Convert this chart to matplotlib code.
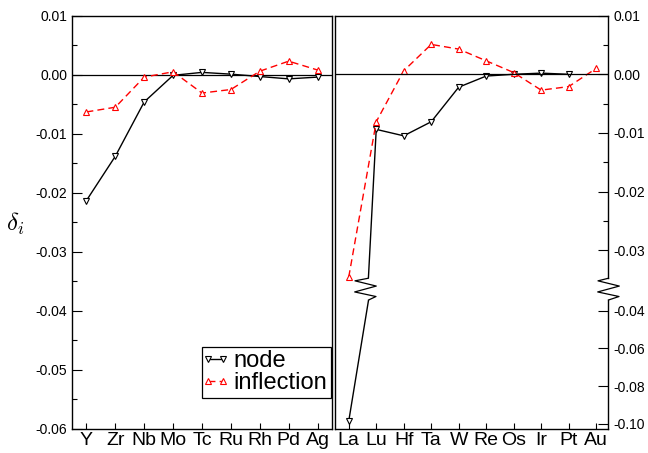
import numpy as np
import matplotlib
matplotlib.use('Agg')
import matplotlib.pyplot as plt
from matplotlib.lines import Line2D
from matplotlib.legend_handler import HandlerLine2D
from matplotlib.ticker import MultipleLocator, FixedLocator

plt.rcParams['font.family'] = ['Liberation Sans', 'DejaVu Sans']
plt.rcParams['mathtext.fontset'] = 'cm'

# 4d row
el_4d = ['Y', 'Zr', 'Nb', 'Mo', 'Tc', 'Ru', 'Rh', 'Pd', 'Ag']
node_4d = [-0.0213, -0.0138, -0.0046, -0.0001, 0.0004, 0.0001, -0.0003, -0.0007, -0.0004]
infl_4d = [-0.0063, -0.0055, -0.0004, 0.0005, -0.0031, -0.0025, 0.0006, 0.0023, 0.0008]

# 5d row (no node value for Au)
el_5d = ['La', 'Lu', 'Hf', 'Ta', 'W', 'Re', 'Os', 'Ir', 'Pt', 'Au']
node_5d = [-0.0985, -0.0094, -0.0105, -0.0081, -0.0022, -0.0003, 0.0000, 0.0002, 0.0000, np.nan]
infl_5d = [-0.0346, -0.0081, 0.0006, 0.0051, 0.0043, 0.0023, 0.0003, -0.0027, -0.0021, 0.0010]

W, H = 648, 453
fig = plt.figure(figsize=(W / 100, H / 100), dpi=100)


def box(x0, y0, x1, y1):
    # pixel box (top-left origin) -> figure fraction rect
    return [x0 / W, 1 - y1 / H, (x1 - x0) / W, (y1 - y0) / H]


node_style = dict(color='black', ls='-', lw=1.0)
infl_style = dict(color='red', ls=(0, (5, 3)), lw=1.0)
node_mk = dict(marker='v', ms=5, mfc='white', mec='black', mew=0.8)
infl_mk = dict(marker='^', ms=5, mfc='white', mec='red', mew=0.8)

TOP, BOT = 15.7, 429

# ---- left panel ----
ax1 = fig.add_axes(box(72, TOP, 332, BOT))
x4 = np.arange(len(el_4d))
ax1.axhline(0, color='black', lw=0.9)
ax1.plot(x4, node_4d, **node_style, **node_mk, label='node')
ax1.plot(x4, infl_4d, **infl_style, **infl_mk, label='inflection')
ax1.set_xlim(-0.5, len(el_4d) - 0.5)
ax1.set_ylim(-0.06, 0.01)
ax1.set_xticks(x4)
ax1.set_xticklabels(el_4d, fontsize=14)
ax1.yaxis.set_major_locator(MultipleLocator(0.01))
ax1.yaxis.set_minor_locator(MultipleLocator(0.005))
ax1.set_yticklabels(['%.2f' % v for v in ax1.get_yticks()])
ax1.tick_params(axis='y', which='major', direction='in', length=7, width=0.8, labelsize=10, right=False)
ax1.tick_params(axis='y', which='minor', direction='in', length=3.6, width=0.8, right=False)
ax1.tick_params(axis='x', direction='in', length=4.3, width=0.8, top=False, pad=2)
for s in ax1.spines.values():
    s.set_linewidth(1.0)

leg = ax1.legend(loc='lower right', bbox_to_anchor=(331 / W, 1 - 398 / H),
                 bbox_transform=fig.transFigure, fontsize=17,
                 handler_map={Line2D: HandlerLine2D(numpoints=2, marker_pad=0.1)},
                 handlelength=0.85, handletextpad=0.35, borderpad=0.15,
                 labelspacing=0.0, borderaxespad=0, fancybox=False,
                 framealpha=1, edgecolor='black', markerscale=0.8)
leg.get_frame().set_linewidth(0.9)

fig.text(15 / W, 1 - 224 / H, r'$\delta_i$', fontsize=18, ha='center', va='center')

# ---- right panel: frame with x axis, plus two y ranges around a break ----
RX0, RX1 = 335, 608.5
BREAK = -0.035
UP_LO, UP_HI = -0.0348, 0.01
LO_LO, LO_HI = -0.1027, -0.0343
up_bot = TOP + (UP_HI - UP_LO) / (0.01 / 58.6)
lo_top = 300

x5 = np.arange(len(el_5d))
xlim5 = (-0.5, len(el_5d) - 0.55)

frame = fig.add_axes(box(RX0, TOP, RX1, BOT))
frame.set_xlim(*xlim5)
frame.set_xticks(x5)
frame.set_xticklabels(el_5d, fontsize=14)
frame.set_yticks([])
frame.spines['right'].set_visible(False)
frame.tick_params(axis='x', direction='in', length=4.3, width=0.8, top=False, pad=2)
for s in frame.spines.values():
    s.set_linewidth(1.0)
frame.patch.set_alpha(0)

ax_up = fig.add_axes(box(RX0, TOP, RX1, up_bot))
ax_lo = fig.add_axes(box(RX0, lo_top, RX1, BOT))
nd = np.array(node_5d)
nf = np.array(infl_5d)
for ax, lo, hi, upper in ((ax_up, UP_LO, UP_HI, True), (ax_lo, LO_LO, LO_HI, False)):
    ax.patch.set_alpha(0)
    ax.set_xlim(*xlim5)
    ax.set_ylim(lo, hi)
    for k in ('left', 'top', 'bottom'):
        ax.spines[k].set_visible(False)
    ax.spines['right'].set_linewidth(1.0)
    ax.xaxis.set_visible(False)
    ax.yaxis.tick_right()
    ax.tick_params(axis='y', which='major', direction='in', length=7.5, width=0.8, labelsize=10, left=False)
    ax.tick_params(axis='y', which='minor', direction='in', length=3.6, width=0.8, left=False)
    # a series is drawn on a side of the break only if it has points there
    for vals, style, mk in ((nd, node_style, node_mk), (nf, infl_style, infl_mk)):
        keep = vals >= BREAK if upper else vals < BREAK
        if not keep.any():
            continue
        ax.plot(x5, vals, **style)
        ax.plot(x5, np.where(keep, vals, np.nan), ls='none', clip_on=False, **mk)

ax_up.axhline(0, color='black', lw=0.9)
ax_up.yaxis.set_major_locator(FixedLocator([0.01, 0.0, -0.01, -0.02, -0.03]))
ax_up.yaxis.set_minor_locator(FixedLocator([0.005, -0.005, -0.015, -0.025]))
ax_up.set_yticklabels(['0.01', '0.00', '-0.01', '-0.02', '-0.03'])
ax_lo.yaxis.set_major_locator(FixedLocator([-0.04, -0.06, -0.08, -0.10]))
ax_lo.set_yticklabels(['-0.04', '-0.06', '-0.08', '-0.10'])

# ---- zigzag break marks ----
to_fig = fig.transFigure.inverted()
zig_t = [0, 0.12, 0.36, 0.63, 0.84, 1.0]
zig_dx = [None, -10.5, 10.8, -10.8, 10.5, None]


def zigzag(xt, yt, xb, yb, xc):
    pts = []
    for t, dx in zip(zig_t, zig_dx):
        y = yt + (yb - yt) * t
        if dx is None:
            x = xt if t == 0 else xb
        else:
            x = xc + dx
        pts.append((x, y))
    pts = to_fig.transform(np.array(pts))
    fig.add_artist(Line2D(pts[:, 0], pts[:, 1], color='black', lw=0.9))


def cross_x(ax, y0, y1, yv):
    # display x where the segment between x=0 and x=1 reaches the value yv
    p0 = ax.transData.transform((0, y0))
    p1 = ax.transData.transform((1, y1))
    q = ax.transData.transform((0, yv))
    f = (q[1] - p0[1]) / (p1[1] - p0[1])
    return p0[0] + f * (p1[0] - p0[0]), q[1]


xt, yt = cross_x(ax_up, node_5d[0], node_5d[1], UP_LO)
xb, yb = cross_x(ax_lo, node_5d[0], node_5d[1], LO_HI)
zigzag(xt, yt, xb, yb, (xt + xb) / 2 - 3)

sx = ax_up.transAxes.transform((1, 0))[0]
zigzag(sx, yt, sx, yb, sx)

fig.savefig('out.png', dpi=100)
